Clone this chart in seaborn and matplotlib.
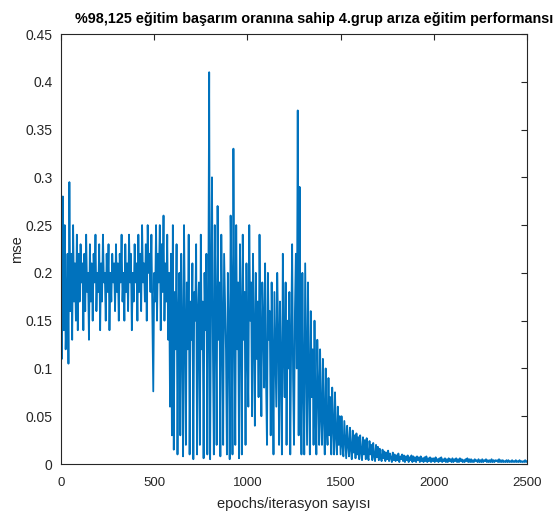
import numpy as np
import pandas as pd
import matplotlib
matplotlib.use("Agg")
import matplotlib.pyplot as plt
import seaborn as sns

# Training error (mse) sampled every 5 epochs, 0..2500
epoch_step = 5
mse = [
    # 0 - 95
    0.30, 0.11, 0.28, 0.14, 0.25, 0.12, 0.16, 0.22, 0.105, 0.295,
    0.16, 0.22, 0.13, 0.25, 0.17, 0.21, 0.15, 0.24, 0.14, 0.22,
    # 100 - 195
    0.17, 0.23, 0.19, 0.21, 0.14, 0.22, 0.16, 0.24, 0.18, 0.20,
    0.13, 0.23, 0.17, 0.21, 0.15, 0.22, 0.19, 0.24, 0.16, 0.20,
    # 200 - 295
    0.18, 0.23, 0.14, 0.21, 0.17, 0.24, 0.19, 0.20, 0.15, 0.22,
    0.18, 0.23, 0.14, 0.20, 0.17, 0.22, 0.19, 0.21, 0.16, 0.23,
    # 300 - 395
    0.18, 0.21, 0.15, 0.22, 0.19, 0.24, 0.17, 0.20, 0.15, 0.23,
    0.18, 0.21, 0.16, 0.24, 0.19, 0.22, 0.14, 0.20, 0.17, 0.23,
    # 400 - 495
    0.19, 0.21, 0.15, 0.24, 0.18, 0.22, 0.16, 0.25, 0.19, 0.21,
    0.17, 0.23, 0.15, 0.25, 0.20, 0.22, 0.18, 0.24, 0.16, 0.076,
    # 500 - 595
    0.20, 0.17, 0.25, 0.15, 0.22, 0.19, 0.25, 0.14, 0.23, 0.18,
    0.26, 0.15, 0.21, 0.17, 0.24, 0.13, 0.20, 0.06, 0.22, 0.03,
    # 600 - 695
    0.25, 0.015, 0.18, 0.12, 0.23, 0.01, 0.16, 0.20, 0.03, 0.22,
    0.14, 0.008, 0.25, 0.15, 0.02, 0.19, 0.12, 0.24, 0.01, 0.17,
    # 700 - 795
    0.13, 0.21, 0.005, 0.18, 0.15, 0.23, 0.01, 0.16, 0.19, 0.02,
    0.24, 0.12, 0.17, 0.006, 0.20, 0.14, 0.22, 0.01, 0.15, 0.41,
    # 800 - 895
    0.005, 0.18, 0.30, 0.12, 0.01, 0.25, 0.16, 0.02, 0.27, 0.13,
    0.19, 0.008, 0.24, 0.15, 0.02, 0.22, 0.17, 0.12, 0.01, 0.20,
    # 900 - 995
    0.14, 0.005, 0.26, 0.18, 0.01, 0.33, 0.15, 0.02, 0.25, 0.12,
    0.19, 0.006, 0.23, 0.16, 0.01, 0.24, 0.13, 0.18, 0.02, 0.21,
    # 1000 - 1095
    0.12, 0.06, 0.25, 0.15, 0.19, 0.05, 0.22, 0.14, 0.04, 0.20,
    0.11, 0.17, 0.07, 0.24, 0.13, 0.05, 0.19, 0.15, 0.08, 0.21,
    # 1100 - 1195
    0.09, 0.02, 0.20, 0.13, 0.16, 0.03, 0.19, 0.11, 0.01, 0.18,
    0.12, 0.06, 0.20, 0.14, 0.02, 0.17, 0.10, 0.01, 0.22, 0.12,
    # 1200 - 1295
    0.07, 0.19, 0.02, 0.15, 0.10, 0.18, 0.01, 0.13, 0.23, 0.09,
    0.02, 0.16, 0.22, 0.10, 0.37, 0.03, 0.29, 0.12, 0.01, 0.20,
    # 1300 - 1395
    0.08, 0.01, 0.21, 0.11, 0.02, 0.19, 0.09, 0.01, 0.16, 0.07,
    0.12, 0.02, 0.15, 0.06, 0.01, 0.13, 0.08, 0.02, 0.12, 0.05,
    # 1400 - 1495
    0.02, 0.11, 0.05, 0.01, 0.10, 0.04, 0.02, 0.09, 0.03, 0.07,
    0.01, 0.08, 0.04, 0.01, 0.075, 0.03, 0.01, 0.06, 0.02, 0.05,
    # 1500 - 1595
    0.01, 0.05, 0.02, 0.008, 0.045, 0.025, 0.006, 0.04, 0.02, 0.008,
    0.038, 0.015, 0.005, 0.035, 0.012, 0.03, 0.006, 0.032, 0.01, 0.028,
    # 1600 - 1695
    0.005, 0.03, 0.012, 0.004, 0.028, 0.01, 0.025, 0.005, 0.027, 0.009,
    0.004, 0.024, 0.01, 0.02, 0.004, 0.022, 0.008, 0.003, 0.02, 0.007,
    # 1700 - 1795
    0.018, 0.004, 0.016, 0.007, 0.003, 0.015, 0.006, 0.013, 0.003, 0.012,
    0.005, 0.014, 0.003, 0.011, 0.006, 0.002, 0.012, 0.004, 0.01, 0.003,
    # 1800 - 1895
    0.009, 0.004, 0.011, 0.002, 0.008, 0.005, 0.01, 0.003, 0.009, 0.002,
    0.008, 0.004, 0.009, 0.002, 0.007, 0.004, 0.009, 0.002, 0.008, 0.003,
    # 1900 - 1995
    0.007, 0.002, 0.008, 0.004, 0.007, 0.002, 0.008, 0.003, 0.006, 0.002,
    0.007, 0.003, 0.008, 0.002, 0.006, 0.003, 0.007, 0.002, 0.006, 0.003,
    # 2000 - 2095
    0.006, 0.002, 0.007, 0.003, 0.005, 0.002, 0.006, 0.003, 0.007, 0.002,
    0.005, 0.003, 0.006, 0.002, 0.005, 0.002, 0.006, 0.003, 0.005, 0.002,
    # 2100 - 2195
    0.006, 0.002, 0.005, 0.003, 0.006, 0.002, 0.005, 0.002, 0.006, 0.003,
    0.005, 0.002, 0.004, 0.002, 0.005, 0.003, 0.006, 0.002, 0.005, 0.002,
    # 2200 - 2295
    0.005, 0.002, 0.004, 0.002, 0.005, 0.003, 0.004, 0.002, 0.005, 0.002,
    0.004, 0.002, 0.005, 0.002, 0.004, 0.003, 0.005, 0.002, 0.004, 0.002,
    # 2300 - 2395
    0.004, 0.002, 0.005, 0.002, 0.004, 0.002, 0.004, 0.003, 0.004, 0.002,
    0.005, 0.002, 0.004, 0.002, 0.004, 0.002, 0.003, 0.002, 0.004, 0.002,
    # 2400 - 2495
    0.004, 0.002, 0.003, 0.002, 0.004, 0.002, 0.003, 0.002, 0.004, 0.002,
    0.003, 0.002, 0.004, 0.002, 0.003, 0.002, 0.003, 0.002, 0.004, 0.002,
    # 2500
    0.003,
]
epochs = np.arange(len(mse)) * epoch_step

x_ticks = [0, 500, 1000, 1500, 2000, 2500]
y_ticks = [0, 0.05, 0.1, 0.15, 0.2, 0.25, 0.3, 0.35, 0.4, 0.45]
y_tick_labels = ["0", "0.05", "0.1", "0.15", "0.2", "0.25", "0.3", "0.35", "0.4", "0.45"]

title = "%98,125 eğitim başarım oranına sahip 4.grup arıza eğitim performansı"
x_label = "epochs/iterasyon sayısı"
y_label = "mse"

df = pd.DataFrame({"epoch": epochs, "mse": mse})

sns.set_theme(style="white")
plt.rcParams["font.family"] = ["Liberation Sans", "DejaVu Sans"]

fig = plt.figure(figsize=(5.56, 5.18), dpi=100)
ax = fig.add_axes([61 / 556, 54 / 518, 466 / 556, 430 / 518])

sns.lineplot(data=df, x="epoch", y="mse", ax=ax, color="#0072BD",
             linewidth=1.3, estimator=None, sort=False)

ax.set_xlim(0, 2500)
ax.set_ylim(0, 0.45)
ax.set_xticks(x_ticks)
ax.set_xticklabels([str(t) for t in x_ticks])
ax.set_yticks(y_ticks)
ax.set_yticklabels(y_tick_labels)

ax.tick_params(direction="in", length=4, width=0.8, colors="#262626",
               top=True, right=True, labelcolor="#262626")
ax.tick_params(axis="x", labelsize=9.5, pad=9)
ax.tick_params(axis="y", labelsize=10, pad=6)
for s in ax.spines.values():
    s.set_visible(True)
    s.set_color("#262626")
    s.set_linewidth(0.8)

ax.set_xlabel(x_label, fontsize=10.5, color="#262626", labelpad=6)
ax.set_ylabel(y_label, fontsize=10.5, color="#262626", labelpad=1)
ax.set_title(title, fontsize=10.4, fontweight="bold", color="black",
             x=0.543, pad=8)

fig.savefig("out.png", dpi=100)
